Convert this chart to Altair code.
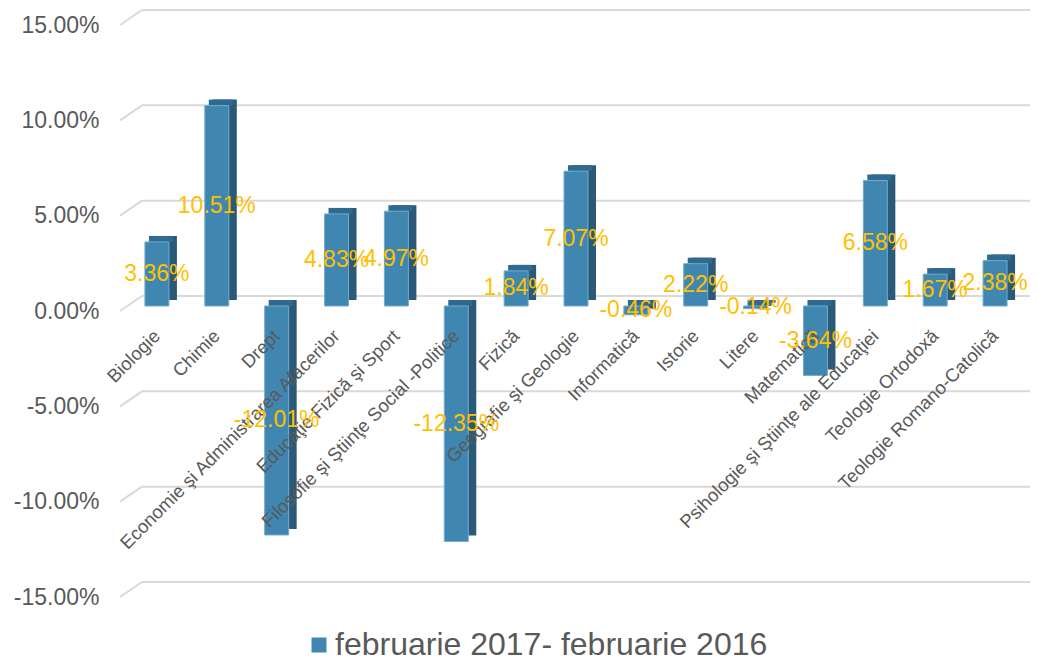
import altair as alt
import pandas as pd

categories = [
    "Biologie",
    "Chimie",
    "Drept",
    "Economie şi Administrarea Afacerilor",
    "Educaţie Fizică şi Sport",
    "Filosofie şi Ştiinţe Social -Politice",
    "Fizică",
    "Geografie şi Geologie",
    "Informatică",
    "Istorie",
    "Litere",
    "Matematică",
    "Psihologie şi Ştiinţe ale Educaţiei",
    "Teologie Ortodoxă",
    "Teologie Romano-Catolică",
]
values = [3.36, 10.51, -12.01, 4.83, 4.97, -12.35, 1.84, 7.07, -0.46, 2.22, -0.14, -3.64, 6.58, 1.67, 2.38]
grid_values = [-15, -10, -5, 0, 5, 10, 15]
series_name = "februarie 2017- februarie 2016"

FONT = "Liberation Sans"
W, H = 898, 572

df = pd.DataFrame({"cat": categories, "v": values})
df["series"] = series_name
grid = pd.DataFrame({"g": grid_values})

yscale = alt.Scale(domain=[-15, 15], nice=False, zero=False)
yaxis = alt.Axis(
    values=grid_values,
    grid=False,
    domain=False,
    ticks=False,
    tickSize=0,
    labelPadding=28,
    labelOffset=5,
    labelFontSize=23,
    labelFont=FONT,
    labelColor="#595959",
    labelExpr="(datum.value < 0 ? '-' : '') + format(abs(datum.value), '.2f') + '%'",
    title=None,
)
xenc = alt.X("cat:N", sort=categories, scale=alt.Scale(paddingInner=0, paddingOuter=0), axis=None)

base = alt.Chart(df).transform_calculate(
    zero="0",
    top="max(datum.v, 0)",
    mid="datum.v / 2",
    lbl="(datum.v < 0 ? '-' : '') + format(abs(datum.v), '.2f') + '%'",
)

grid_back = alt.Chart(grid).mark_rule(color="#d9d9d9", strokeWidth=2, yOffset=-10).encode(
    y=alt.Y("g:Q", scale=yscale, axis=yaxis),
    x=alt.value(15),
    x2=alt.value(903),
)

grid_diag = alt.Chart(grid).mark_rule(color="#d9d9d9", strokeWidth=2, yOffset=5, y2Offset=-10).encode(
    y=alt.Y("g:Q", scale=yscale, axis=yaxis),
    y2=alt.Y2("g:Q"),
    x=alt.value(-7),
    x2=alt.value(15),
)

side = base.mark_bar(width=24, xOffset=8, yOffset=-6, y2Offset=-6, color="#2a5a78").encode(
    x=xenc,
    y=alt.Y("v:Q", scale=yscale, axis=yaxis),
    y2=alt.Y2("zero:Q"),
)

topface = base.mark_bar(width=24, xOffset=4, yOffset=-6, y2Offset=0, color="#306a8e").encode(
    x=xenc,
    y=alt.Y("top:Q", scale=yscale, axis=yaxis),
    y2=alt.Y2("top:Q"),
)

front = base.mark_bar(width=24, stroke="#74abcf", strokeWidth=1).encode(
    x=xenc,
    y=alt.Y("v:Q", scale=yscale, axis=yaxis),
    y2=alt.Y2("zero:Q"),
    color=alt.Color(
        "series:N",
        scale=alt.Scale(domain=[series_name], range=["#3f87b1"]),
        legend=alt.Legend(
            title=None,
            orient="none",
            legendX=176,
            legendY=609,
            symbolType="square",
            symbolSize=225,
            symbolStrokeWidth=0,
            labelFontSize=32,
            labelFont=FONT,
            labelColor="#595959",
            labelOffset=0,
            labelLimit=0,
            padding=0,
        ),
    ),
)

cat_labels = base.mark_text(
    angle=315, align="right", baseline="middle", fontSize=18.5, font=FONT, color="#595959", yOffset=27, xOffset=0
).encode(
    x=xenc,
    y=alt.Y("zero:Q", scale=yscale, axis=yaxis),
    text="cat:N",
)

val_labels = base.mark_text(fontSize=23, font=FONT, color="#FFC000", baseline="middle").encode(
    x=xenc,
    y=alt.Y("mid:Q", scale=yscale, axis=yaxis),
    text="lbl:N",
)

chart = alt.layer(grid_back, grid_diag, side, topface, front, cat_labels, val_labels).properties(
    width=W,
    height=H,
    autosize=alt.AutoSizeParams(type="none"),
    padding={"left": 119, "top": 12, "right": 5, "bottom": 70},
    background="white",
).configure_view(stroke=None)

chart.save("out.html", embed_options={"renderer": "svg", "actions": False})
